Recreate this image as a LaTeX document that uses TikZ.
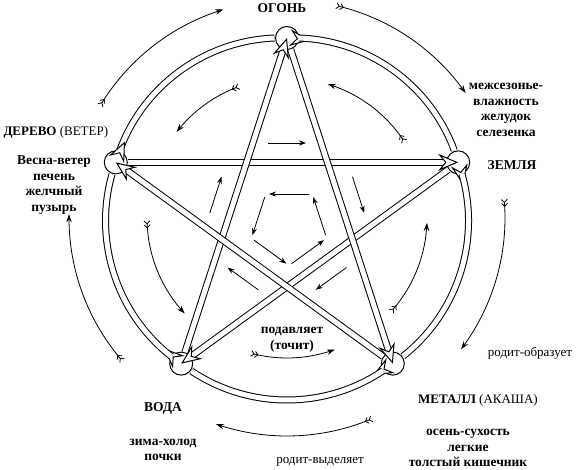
\documentclass[tikz,border=0pt]{standalone}
\usepackage{fontspec}
\setmainfont{Liberation Serif}
\usetikzlibrary{arrows.meta,calc,bending}
\begin{document}
\begin{tikzpicture}[x=1pt, y=1pt,
  dline/.style={draw, line width=1pt, double, double distance=5pt,
    -{Stealth[length=20pt, width=17pt, inset=7pt, fill=white]}},
  vtx/.style={circle, draw, line width=1pt, fill=white,
    minimum size=23pt, inner sep=0pt},
  gen/.style={line width=0.8pt,
    {Straight Barb[reversed, length=3pt, width=6pt]
     Straight Barb[reversed, length=3pt, width=6pt]}-{Stealth[length=8pt, width=5.5pt]}},
  sarr/.style={line width=0.8pt, -{Stealth[length=7pt, width=5pt]}},
  elem/.style={font=\fontsize{13.5}{15}\selectfont\bfseries},
  info/.style={align=center, font=\fontsize{13.5}{15.5}\selectfont\bfseries},
  lbl/.style={font=\fontsize{13}{15}\selectfont}]
\useasboundingbox (0,0) rectangle (576,-470);
\coordinate (c) at (287,-218);
\coordinate (ci) at (289,-226);

% outer single arrows (generating cycle)
\foreach \s in {149, 77, 5, -67, -139}
  \draw[gen] ($(c)+(\s:218)$) arc[start angle=\s, end angle=\s-42, radius=218];

% inner single arrows, running the other way
\foreach \s/\e in {110/142, 33/73, -42/-2, -105/-70, 181/223}
  \draw[gen] ($(c)+(\s:140)$) arc[start angle=\s, end angle=\e, radius=140];

% small arrows in the middle
\foreach \t in {90, 18, -54, -126, 162}{
  \draw[sarr] ($(ci)+(\t:32)+(\t-90:20)$) -- ($(ci)+(\t:32)+(\t+90:20)$);
  \draw[sarr] ($(c)+(\t:75)+(\t+90:19)$) -- ($(c)+(\t:75)+(\t-90:19)$);
}

% element points
\foreach \n/\ang in {fire/90, earth/18, metal/-54, water/-126, wood/162}
  \node[vtx] (\n) at ($(c)+(\ang:180)$) {};

% star (control)
\foreach \a/\b in {wood/earth, earth/water, water/fire, fire/metal, metal/wood}
  \draw[dline] (\a) -- (\b.center);

% circle (generation)
\foreach \a/\b in {wood/fire, fire/earth, earth/metal, metal/water, water/wood}
  \draw[dline] (\a) to[bend left=36, looseness=0.94] (\b.center);

% labels
\node[elem] (firelbl) at (282,-8) {ОГОНЬ};
\node[lbl, anchor=west] (woodlbl) at (0,-132) {\textbf{ДЕРЕВО} (ВЕТЕР)};
\node[info] (woodinfo) at (54,-185) {Весна-ветер\\печень\\желчный\\пузырь};
\node[info] (earthinfo) at (506,-110) {межсезонье-\\влажность\\желудок\\селезенка};
\node[elem] (earthlbl) at (512,-165) {ЗЕМЛЯ};
\node[elem] (waterlbl) at (163,-408) {ВОДА};
\node[info] (waterinfo) at (163,-450) {зима-холод\\почки};
\node[lbl] (genmw) at (320,-462) {родит-выделяет};
\node[lbl] (metallbl) at (478,-400) {\textbf{МЕТАЛЛ} (АКАША)};
\node[info] (metalinfo) at (468,-448) {осень-сухость\\легкие\\толстый кишечник};
\node[lbl] (genem) at (530,-353) {родит-образует};
\node[info] (supp) at (292,-340) {подавляет\\(точит)};
\end{tikzpicture}
\end{document}
